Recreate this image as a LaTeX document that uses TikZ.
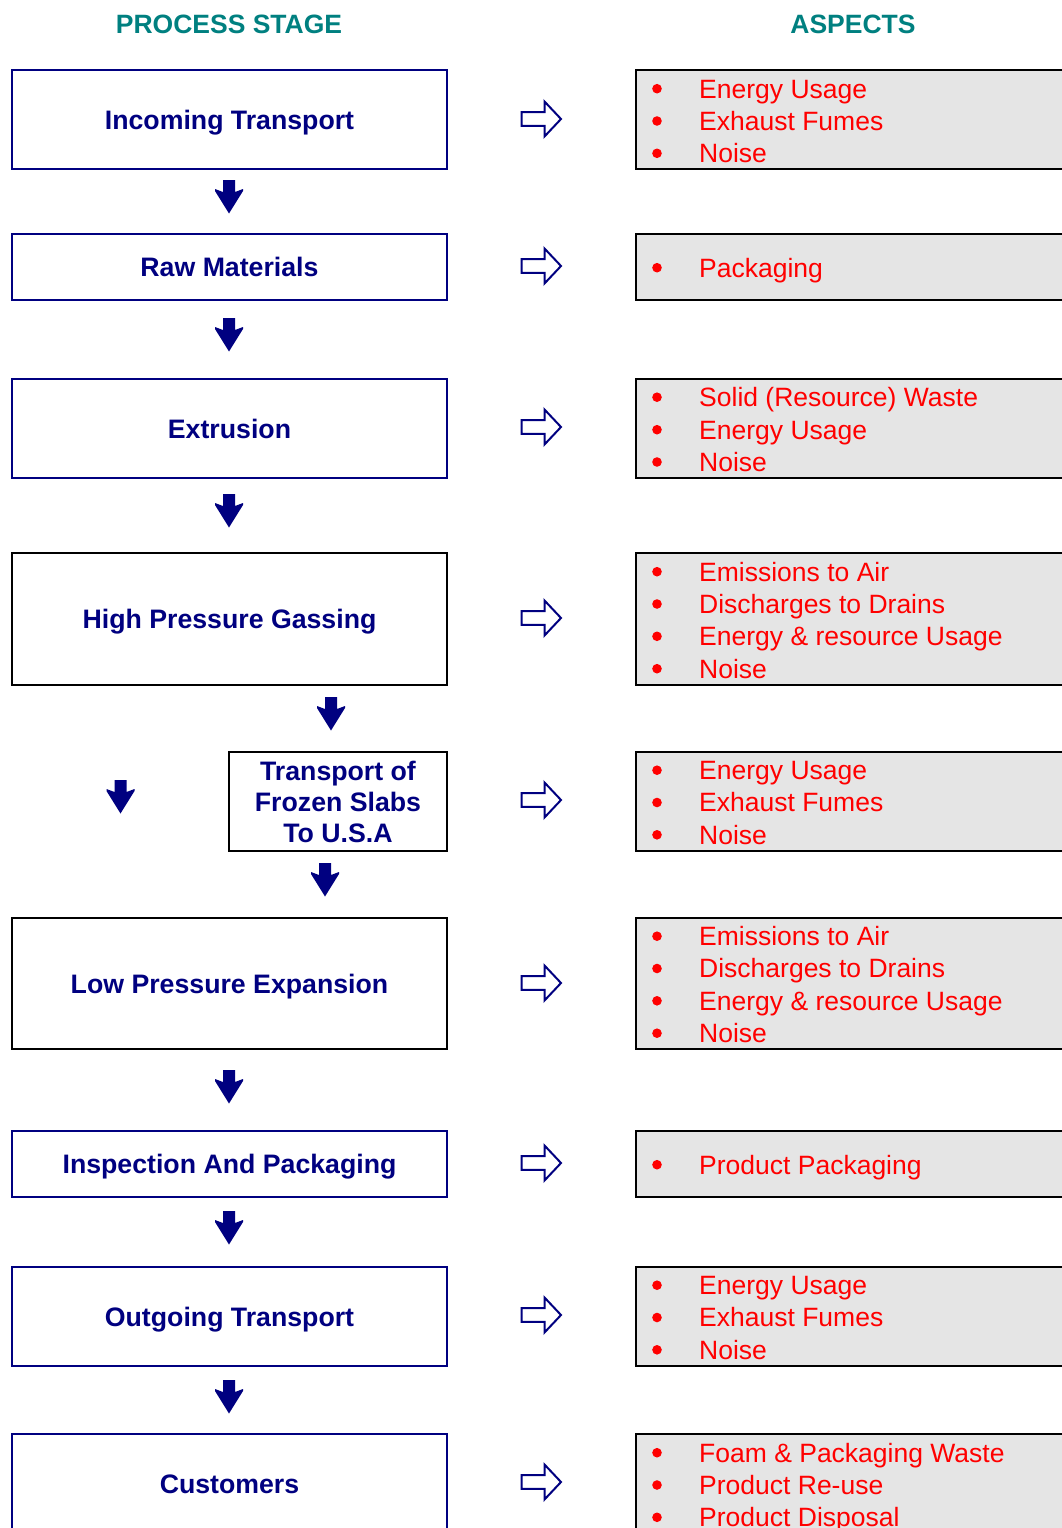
\documentclass[tikz,border=0pt]{standalone}
\usepackage{fontspec}
\setmainfont{Liberation Sans}
\definecolor{navyb}{HTML}{000080}
\definecolor{tealh}{HTML}{008080}
\definecolor{redt}{HTML}{FF0000}
\definecolor{grayf}{HTML}{E5E5E5}
\newcommand{\aspitem}[3]{%
  \fill[redt] (657,#2-9.3) circle (4.8pt);
  \node[itemtext] (#1) at (699,#2) {#3};}
\begin{document}
\begin{tikzpicture}[x=1pt,y=-1pt,
  stagebox/.style={rectangle, draw=navyb, line width=2pt, inner sep=0pt,
    minimum width=435pt, text=navyb, align=center,
    font=\bfseries\fontsize{26.7}{31}\selectfont, text height=19pt, text depth=0pt},
  aspectbox/.style={rectangle, draw=black, line width=2pt, fill=grayf,
    inner sep=0pt, minimum width=440pt},
  itemtext/.style={anchor=base west, text=redt, inner sep=0pt,
    font=\fontsize{26.5}{31}\selectfont},
  header/.style={anchor=base, text=tealh, inner sep=0pt,
    font=\bfseries\fontsize{26.5}{31}\selectfont},
  downarr/.pic={\fill[navyb] (-6,0) -- (6,0) -- (6,12) -- (14,9) -- (14,11) -- (0,33.5)
    -- (-14,11) -- (-14,9) -- (-6,12) -- cycle;},
  rightarr/.pic={\draw[navyb, line width=2pt, line join=miter] (0,-6.8) -- (23,-6.8)
    -- (23,-17.5) -- (39.5,0) -- (23,17.5) -- (23,6.8) -- (0,6.8) -- cycle;}
]
\clip (0,0) rectangle (1062,1528);
\fill[white] (0,0) rectangle (1062,1528);

% headers
\node[header] (h1) at (229,33.3) {PROCESS STAGE};
\node[header] (h2) at (853,33.3) {ASPECTS};

% process stages
\node[stagebox, minimum height=99pt] (s1) at (229.5,119.5) {Incoming Transport};
\node[stagebox, minimum height=66pt] (s2) at (229.5,267) {Raw Materials};
\node[stagebox, minimum height=99pt] (s3) at (229.5,428.5) {Extrusion};
\node[stagebox, draw=black, minimum height=132pt] (s4) at (229.5,619) {High Pressure Gassing};
\node[stagebox, draw=black, minimum width=218pt, minimum height=99pt, text height=81pt]
  (s5) at (338,801.5) {Transport of\\Frozen Slabs\\To U.S.A};
\node[stagebox, draw=black, minimum height=131pt] (s6) at (229.5,983.5) {Low Pressure Expansion};
\node[stagebox, minimum height=66pt] (s7) at (229.5,1164) {Inspection And Packaging};
\node[stagebox, minimum height=99pt] (s8) at (229.5,1316.5) {Outgoing Transport};
\node[stagebox, minimum height=100pt] (s9) at (229.5,1484) {Customers};

% down arrows
\pic at (229,180) {downarr};
\pic at (229,318) {downarr};
\pic at (229,494) {downarr};
\pic at (331,697) {downarr};
\pic at (120.5,780) {downarr};
\pic at (325,863) {downarr};
\pic at (229,1070) {downarr};
\pic at (229,1211) {downarr};
\pic at (229,1380) {downarr};

% right arrows
\pic at (521.5,119) {rightarr};
\pic at (521.5,266) {rightarr};
\pic at (521.5,427) {rightarr};
\pic at (521.5,618) {rightarr};
\pic at (521.5,800) {rightarr};
\pic at (521.5,983) {rightarr};
\pic at (521.5,1163) {rightarr};
\pic at (521.5,1315) {rightarr};
\pic at (521.5,1482) {rightarr};

% aspect boxes
\node[aspectbox, minimum height=99pt] (a1) at (856,119.5) {};
\node[aspectbox, minimum height=66pt] (a2) at (856,267) {};
\node[aspectbox, minimum height=99pt] (a3) at (856,428.5) {};
\node[aspectbox, minimum height=132pt] (a4) at (856,619) {};
\node[aspectbox, minimum height=99pt] (a5) at (856,801.5) {};
\node[aspectbox, minimum height=131pt] (a6) at (856,983.5) {};
\node[aspectbox, minimum height=66pt] (a7) at (856,1164) {};
\node[aspectbox, minimum height=99pt] (a8) at (856,1316.5) {};
\node[aspectbox, minimum height=130pt] (a9) at (856,1499) {};

% aspect items
\aspitem{a1i1}{98}{Energy Usage}
\aspitem{a1i2}{130.3}{Exhaust Fumes}
\aspitem{a1i3}{162.6}{Noise}

\aspitem{a2i1}{277}{Packaging}

\aspitem{a3i1}{406.5}{Solid (Resource) Waste}
\aspitem{a3i2}{439}{Energy Usage}
\aspitem{a3i3}{471.3}{Noise}

\aspitem{a4i1}{581}{Emissions to Air}
\aspitem{a4i2}{613.3}{Discharges to Drains}
\aspitem{a4i3}{645.6}{Energy \& resource Usage}
\aspitem{a4i4}{678}{Noise}

\aspitem{a5i1}{779.5}{Energy Usage}
\aspitem{a5i2}{811.8}{Exhaust Fumes}
\aspitem{a5i3}{844.1}{Noise}

\aspitem{a6i1}{945.5}{Emissions to Air}
\aspitem{a6i2}{977.8}{Discharges to Drains}
\aspitem{a6i3}{1010.1}{Energy \& resource Usage}
\aspitem{a6i4}{1042.5}{Noise}

\aspitem{a7i1}{1174}{Product Packaging}

\aspitem{a8i1}{1294.5}{Energy Usage}
\aspitem{a8i2}{1326.8}{Exhaust Fumes}
\aspitem{a8i3}{1359.1}{Noise}

\aspitem{a9i1}{1462}{Foam \& Packaging Waste}
\aspitem{a9i2}{1494.3}{Product Re-use}
\aspitem{a9i3}{1526.6}{Product Disposal}
\end{tikzpicture}
\end{document}
